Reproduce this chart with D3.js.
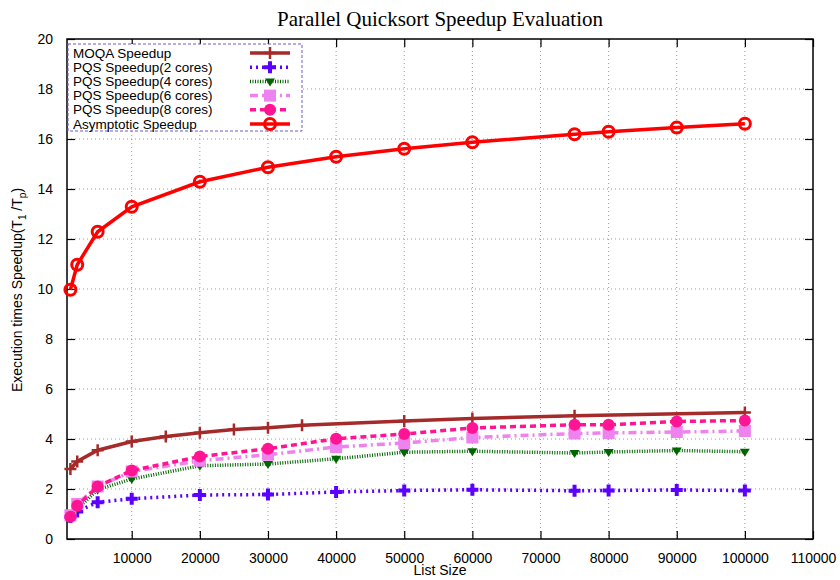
<!DOCTYPE html>
<html>
<head>
<meta charset="utf-8">
<script src="https://d3js.org/d3.v7.min.js"></script>
<style>
  body { margin: 0; background: #fff; }
  text { font-family: "Liberation Sans", Arial, sans-serif; }
</style>
</head>
<body>
<div id="chart"></div>
<script>
/* DATA */
let xTicks = [10000, 20000, 30000, 40000, 50000, 60000, 70000, 80000, 90000, 100000, 110000]
let yTicks = [0, 2, 4, 6, 8, 10, 12, 14, 16, 18, 20]

let moqaSizes = [1000, 2000, 5000, 10000, 15000, 20000, 25000, 30000, 35000, 50000, 60000, 75000, 100000]
let moqaSpeedup = [2.8, 3.1, 3.55, 3.9, 4.1, 4.25, 4.38, 4.45, 4.55, 4.72, 4.82, 4.93, 5.06]

let pqsSizes = [1000, 2000, 5000, 10000, 20000, 30000, 40000, 50000, 60000, 75000, 80000, 90000, 100000]
let pqs2 = [0.88, 1.1, 1.47, 1.61, 1.76, 1.78, 1.88, 1.94, 1.97, 1.93, 1.94, 1.96, 1.94]
let pqs4 = [0.95, 1.2, 1.97, 2.4, 2.93, 3.0, 3.21, 3.47, 3.51, 3.44, 3.48, 3.54, 3.49]
let pqs6 = [0.95, 1.4, 2.1, 2.7, 3.13, 3.37, 3.68, 3.84, 4.06, 4.22, 4.24, 4.28, 4.32]
let pqs8 = [0.89, 1.33, 2.1, 2.74, 3.3, 3.61, 4.01, 4.2, 4.44, 4.57, 4.57, 4.7, 4.74]
let asymptotic = [9.97, 10.97, 12.29, 13.29, 14.29, 14.87, 15.29, 15.61, 15.87, 16.19, 16.29, 16.46, 16.61]

let seriesNames = ["MOQA Speedup", "PQS Speedup(2 cores)", "PQS Speedup(4 cores)",
                   "PQS Speedup(6 cores)", "PQS Speedup(8 cores)", "Asymptotic Speedup"]

/* SVG OBJECT */
let svgWidth = 840
let svgHeight = 580
let margin = { top: 39, right: 27, bottom: 41, left: 67 }
let width = svgWidth - margin.left - margin.right
let height = svgHeight - margin.top - margin.bottom

let svg = d3.select("#chart").append("svg").attr("width", svgWidth).attr("height", svgHeight)
let chartGroup = svg.append("g").attr("transform", `translate(${margin.left}, ${margin.top})`)

let x = d3.scaleLinear().domain([500, 110000]).range([0, width])
let y = d3.scaleLinear().domain([0, 20]).range([height, 0])

//Grid (dotted gray)
chartGroup.append("g").selectAll("line").data(xTicks.slice(0, -1)).join("line")
  .attr("x1", d => x(d)).attr("x2", d => x(d)).attr("y1", 0).attr("y2", height)
  .attr("stroke", "#999").attr("stroke-width", 1).attr("stroke-dasharray", "1,3")
chartGroup.append("g").selectAll("line").data(yTicks.slice(1, -1)).join("line")
  .attr("x1", 0).attr("x2", width).attr("y1", d => y(d)).attr("y2", d => y(d))
  .attr("stroke", "#999").attr("stroke-width", 1).attr("stroke-dasharray", "1,3")

//Axes, ticks pointing inward and mirrored
function styleAxis(g) {
  g.select(".domain").remove()
  g.selectAll(".tick line").attr("stroke", "#000").attr("stroke-width", 1.2)
  g.selectAll(".tick text").attr("font-size", 14).attr("fill", "#000")
}
chartGroup.append("g").attr("transform", `translate(0,${height})`)
  .call(d3.axisBottom(x).tickValues(xTicks).tickFormat(d3.format("d")).tickSizeInner(-8).tickPadding(14))
  .call(styleAxis)
chartGroup.append("g")
  .call(d3.axisTop(x).tickValues(xTicks).tickSizeInner(-8).tickFormat(""))
  .call(styleAxis)
chartGroup.append("g")
  .call(d3.axisLeft(y).tickValues(yTicks).tickSizeInner(-8).tickPadding(14))
  .call(styleAxis)
chartGroup.append("g").attr("transform", `translate(${width},0)`)
  .call(d3.axisRight(y).tickValues(yTicks).tickSizeInner(-8).tickFormat(""))
  .call(styleAxis)

chartGroup.append("rect").attr("width", width).attr("height", height)
  .attr("fill", "none").attr("stroke", "#000").attr("stroke-width", 1.5)

/* SERIES */
let series = [
  { name: seriesNames[0], xs: moqaSizes, ys: moqaSpeedup, color: "#a52a2a", dash: null, marker: "plus" },
  { name: seriesNames[1], xs: pqsSizes, ys: pqs2, color: "#5b00ff", dash: "2,4", marker: "cross" },
  { name: seriesNames[2], xs: pqsSizes, ys: pqs4, color: "#006400", dash: "1,1.5", marker: "tri" },
  { name: seriesNames[3], xs: pqsSizes, ys: pqs6, color: "#ee82ee", dash: "8,4,2,4", marker: "square" },
  { name: seriesNames[4], xs: pqsSizes, ys: pqs8, color: "#ff1493", dash: "6,4", marker: "circle" },
  { name: seriesNames[5], xs: pqsSizes, ys: asymptotic, color: "#ff0000", dash: null, marker: "ring" }
]

let line = d3.line().x(d => x(d[0])).y(d => y(d[1])).curve(d3.curveLinear)

function drawMarker(g, cx, cy, s) {
  if (s.marker === "plus") {
    g.append("path").attr("d", `M${cx - 6},${cy}H${cx + 6}M${cx},${cy - 6}V${cy + 6}`)
      .attr("stroke", s.color).attr("stroke-width", 2.5)
  } else if (s.marker === "cross") {
    g.append("path").attr("d", `M${cx - 6},${cy}H${cx + 6}M${cx},${cy - 6}V${cy + 6}`)
      .attr("stroke", s.color).attr("stroke-width", 4)
  } else if (s.marker === "tri") {
    g.append("path").attr("d", `M${cx - 5},${cy - 3}L${cx + 5},${cy - 3}L${cx},${cy + 5}Z`)
      .attr("fill", s.color)
  } else if (s.marker === "square") {
    g.append("rect").attr("x", cx - 6).attr("y", cy - 6).attr("width", 12).attr("height", 12)
      .attr("fill", s.color)
  } else if (s.marker === "circle") {
    g.append("circle").attr("cx", cx).attr("cy", cy).attr("r", 6).attr("fill", s.color)
  } else {
    g.append("circle").attr("cx", cx).attr("cy", cy).attr("r", 5.5)
      .attr("fill", "none").attr("stroke", s.color).attr("stroke-width", 3)
  }
}

let plotGroup = chartGroup.append("g")
series.forEach(s => {
  let pts = s.xs.map((v, i) => [v, s.ys[i]])
  plotGroup.append("path").datum(pts).attr("d", line)
    .attr("fill", "none").attr("stroke", s.color).attr("stroke-width", 3.5)
    .attr("stroke-dasharray", s.dash)
  let mg = plotGroup.append("g")
  pts.forEach(p => drawMarker(mg, x(p[0]), y(p[1]), s))
})

/* LEGEND */
let legend = chartGroup.append("g").attr("transform", "translate(1,5)")
legend.append("rect").attr("width", 234).attr("height", 87)
  .attr("fill", "#fff").attr("stroke", "#6a5acd").attr("stroke-width", 1).attr("stroke-dasharray", "3,2")
series.forEach((s, i) => {
  let ly = 9 + i * 14.2
  legend.append("text").attr("x", 5).attr("y", ly + 4.5).attr("font-size", 13.5)
    .attr("fill", "#000").text(s.name)
  legend.append("line").attr("x1", 182).attr("x2", 222).attr("y1", ly).attr("y2", ly)
    .attr("stroke", s.color).attr("stroke-width", 3.5).attr("stroke-dasharray", s.dash)
  drawMarker(legend, 202, ly, s)
})

/* TITLES */
svg.append("text").attr("x", 440).attr("y", 26).attr("text-anchor", "middle")
  .style("font-family", "'Liberation Serif', 'Times New Roman', serif").attr("font-size", 21)
  .text("Parallel Quicksort Speedup Evaluation")

svg.append("text").attr("x", 440).attr("y", 575).attr("text-anchor", "middle")
  .attr("font-size", 14).text("List Size")

let yLabel = svg.append("text").attr("transform", "translate(22,290) rotate(-90)")
  .attr("text-anchor", "middle").attr("font-size", 14)
yLabel.append("tspan").text("Execution times Speedup(T")
yLabel.append("tspan").attr("font-size", 10).attr("dy", 4).text("1")
yLabel.append("tspan").attr("dy", -4).text(" /T")
yLabel.append("tspan").attr("font-size", 10).attr("dy", 4).text("p")
yLabel.append("tspan").attr("dy", -4).text(")")
</script>
</body>
</html>
